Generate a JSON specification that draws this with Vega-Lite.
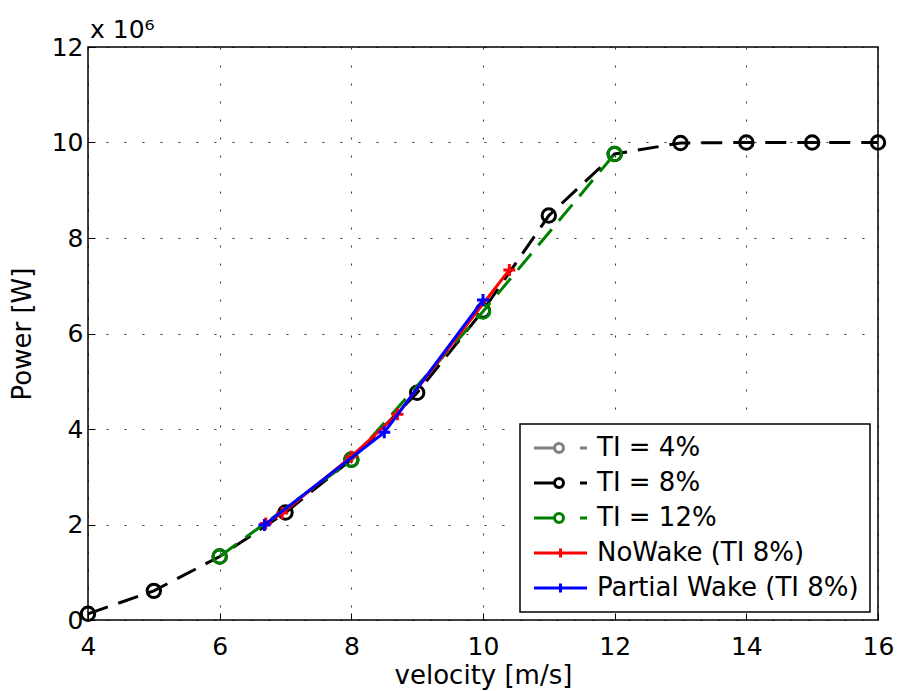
{
  "$schema": "https://vega.github.io/schema/vega-lite/v6.json",
  "autosize": "none",
  "padding": {"left": 88, "top": 47, "right": 19, "bottom": 71},
  "width": 790,
  "height": 573,
  "title": {"text": "x 10⁶", "anchor": "start", "frame": "group", "fontSize": 25, "fontWeight": "normal", "font": "DejaVu Sans", "color": "black", "offset": -8, "dx": 2},
  "data": {"values": [
    {"series": "TI = 8%", "v": 4, "p": 130000},
    {"series": "TI = 8%", "v": 5, "p": 610000},
    {"series": "TI = 8%", "v": 6, "p": 1330000},
    {"series": "TI = 8%", "v": 7, "p": 2250000},
    {"series": "TI = 8%", "v": 8, "p": 3360000},
    {"series": "TI = 8%", "v": 9, "p": 4760000},
    {"series": "TI = 8%", "v": 10, "p": 6480000},
    {"series": "TI = 8%", "v": 11, "p": 8470000},
    {"series": "TI = 8%", "v": 12, "p": 9760000},
    {"series": "TI = 8%", "v": 13, "p": 9990000},
    {"series": "TI = 8%", "v": 14, "p": 10000000},
    {"series": "TI = 8%", "v": 15, "p": 10000000},
    {"series": "TI = 8%", "v": 16, "p": 10000000},
    {"series": "TI = 12%", "v": 6, "p": 1330000},
    {"series": "TI = 12%", "v": 8, "p": 3350000},
    {"series": "TI = 12%", "v": 10, "p": 6460000},
    {"series": "TI = 12%", "v": 12, "p": 9760000},
    {"series": "NoWake (TI 8%)", "v": 6.7, "p": 2020000},
    {"series": "NoWake (TI 8%)", "v": 6.95, "p": 2240000},
    {"series": "NoWake (TI 8%)", "v": 8.0, "p": 3420000},
    {"series": "NoWake (TI 8%)", "v": 8.7, "p": 4310000},
    {"series": "NoWake (TI 8%)", "v": 10.4, "p": 7330000},
    {"series": "Partial Wake (TI 8%)", "v": 6.68, "p": 1990000},
    {"series": "Partial Wake (TI 8%)", "v": 8.5, "p": 3930000},
    {"series": "Partial Wake (TI 8%)", "v": 10.0, "p": 6700000}
  ]},
  "encoding": {
    "x": {"field": "v", "type": "quantitative", "scale": {"domain": [4, 16], "nice": false, "zero": false},
      "axis": {"values": [4, 6, 8, 10, 12, 14, 16], "title": "velocity [m/s]", "labelPadding": 21, "titlePadding": 3, "labelFlush": false}},
    "y": {"field": "p", "type": "quantitative", "scale": {"domain": [0, 12000000], "nice": false},
      "axis": {"values": [0, 2000000, 4000000, 6000000, 8000000, 10000000, 12000000], "labelExpr": "datum.value / 1000000", "title": "Power [W]", "labelPadding": 12, "titlePadding": 16, "labelFlush": false}},
    "color": {"field": "series", "type": "nominal",
      "scale": {"domain": ["TI = 4%", "TI = 8%", "TI = 12%", "NoWake (TI 8%)", "Partial Wake (TI 8%)"],
                "range": ["#808080", "#000000", "#008000", "#ff0000", "#0000ff"]},
      "legend": {"title": null, "orient": "bottom-right", "offset": 8}}
  },
  "layer": [
    {"transform": [{"filter": "datum.series == 'TI = 8%'"}], "mark": {"type": "line", "strokeWidth": 3, "strokeDash": [21, 11]}},
    {"transform": [{"filter": "datum.series == 'TI = 8%'"}], "mark": {"type": "point", "shape": "circle", "filled": false, "size": 180, "strokeWidth": 3, "opacity": 1}},
    {"transform": [{"filter": "datum.series == 'TI = 12%'"}], "mark": {"type": "line", "strokeWidth": 3, "strokeDash": [21, 11]}},
    {"transform": [{"filter": "datum.series == 'TI = 12%'"}], "mark": {"type": "point", "shape": "circle", "filled": false, "size": 180, "strokeWidth": 3, "opacity": 1}},
    {"transform": [{"filter": "datum.series == 'NoWake (TI 8%)'"}], "mark": {"type": "line", "strokeWidth": 3}},
    {"transform": [{"filter": "datum.series == 'NoWake (TI 8%)'"}], "mark": {"type": "point", "shape": "M-1,0H1M0,-1V1", "filled": false, "size": 144, "strokeWidth": 3, "opacity": 1}},
    {"transform": [{"filter": "datum.series == 'Partial Wake (TI 8%)'"}], "mark": {"type": "line", "strokeWidth": 3}},
    {"transform": [{"filter": "datum.series == 'Partial Wake (TI 8%)'"}], "mark": {"type": "point", "shape": "M-1,0H1M0,-1V1", "filled": false, "size": 144, "strokeWidth": 3, "opacity": 1}},
    {"transform": [{"filter": "false"}],
     "mark": {"type": "point", "filled": false, "opacity": 1, "strokeWidth": 3},
     "encoding": {
       "shape": {"field": "series", "type": "nominal",
         "scale": {"domain": ["TI = 4%", "TI = 8%", "TI = 12%", "NoWake (TI 8%)", "Partial Wake (TI 8%)"],
                   "range": ["M-1,0H1.05M1.05,0A0.45,0.45,0,1,1,1.95,0A0.45,0.45,0,1,1,1.05,0M3.6,0H4.3",
                             "M-1,0H1.05M1.05,0A0.45,0.45,0,1,1,1.95,0A0.45,0.45,0,1,1,1.05,0M3.6,0H4.3",
                             "M-1,0H1.05M1.05,0A0.45,0.45,0,1,1,1.95,0A0.45,0.45,0,1,1,1.05,0M3.6,0H4.3",
                             "M-1,0H4.3M1.65,-0.45V0.45",
                             "M-1,0H4.3M1.65,-0.45V0.45"]},
         "legend": {"title": null, "orient": "bottom-right", "offset": 8}}
     }}
  ],
  "config": {
    "font": "DejaVu Sans",
    "view": {"stroke": "black", "strokeWidth": 1.5},
    "axis": {
      "grid": true, "gridDash": [2, 16], "gridColor": "#000000", "gridOpacity": 0.8, "gridWidth": 1,
      "domain": false, "ticks": true, "tickSize": -7, "tickColor": "#000000", "tickWidth": 1,
      "labelFont": "DejaVu Sans", "labelFontSize": 25, "labelColor": "#000000",
      "titleFont": "DejaVu Sans", "titleFontSize": 26, "titleFontWeight": "normal", "titleColor": "#000000"
    },
    "legend": {
      "labelFont": "DejaVu Sans", "labelFontSize": 26, "labelColor": "#000000", "labelLimit": 400,
      "symbolSize": 400, "symbolStrokeWidth": 3, "strokeColor": "#000000", "strokeWidth": 1.5,
      "fillColor": "#ffffff", "padding": 11, "rowPadding": 9, "labelOffset": 40, "symbolFillColor": "transparent"
    }
  }
}
